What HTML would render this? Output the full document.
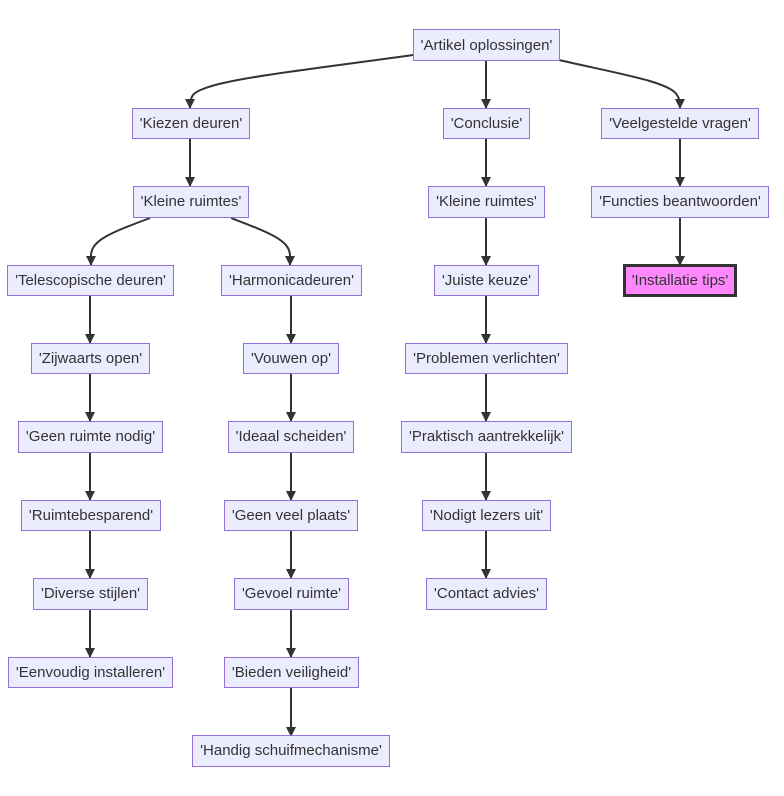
<!DOCTYPE html>
<html><head><meta charset="utf-8"><style>
html,body{margin:0;padding:0;background:#fff;}
body{width:784px;height:796px;position:relative;overflow:hidden;font-family:"Liberation Sans",sans-serif;}
.n{position:absolute;height:30px;box-sizing:border-box;border:1px solid #9370DB;background:#ECECFF;color:#333;font-size:15px;line-height:29px;text-align:center;white-space:nowrap;}
.hl{background:#ff88ff;border:3px solid #333;line-height:25px;}
svg{position:absolute;left:0;top:0;}
</style></head><body>
<svg width="784" height="796">
<defs><marker id="a" markerWidth="10" markerHeight="10" refX="9" refY="5" orient="auto" markerUnits="userSpaceOnUse"><path d="M0,0 L10,5 L0,10 z" fill="#333"/></marker></defs>
<g stroke="#333" stroke-width="2" fill="none" marker-end="url(#a)">
<path d="M413,55 C300,71 205,80 193,95 Q190,99 190,108"/>
<path d="M559,60 C620,74 670,82 677,95 Q680,99 680,108"/>
<path d="M486,61 V108"/>
<path d="M190,139 V186"/>
<path d="M486,139 V186"/>
<path d="M680,139 V186"/>
<path d="M150,218 C110,233 92,240 91,255 V265"/>
<path d="M231,218 C270,233 289,240 290,255 V265"/>
<path d="M486,218 V265"/>
<path d="M680,218 V265"/>
<path d="M90,296 V343"/><path d="M291,296 V343"/><path d="M486,296 V343"/>
<path d="M90,374 V421"/><path d="M291,374 V421"/><path d="M486,374 V421"/>
<path d="M90,453 V500"/><path d="M291,453 V500"/><path d="M486,453 V500"/>
<path d="M90,531 V578"/><path d="M291,531 V578"/><path d="M486,531 V578"/>
<path d="M90,610 V657"/><path d="M291,610 V657"/>
<path d="M291,688 V736"/>
</g></svg>
<div class="n" style="left:413px;top:29px;width:147px;height:32px;line-height:31px">'Artikel oplossingen'</div>
<div class="n" style="left:132px;top:108px;width:118px;height:31px">'Kiezen deuren'</div>
<div class="n" style="left:443px;top:108px;width:87px;height:31px">'Conclusie'</div>
<div class="n" style="left:601px;top:108px;width:158px;height:31px">'Veelgestelde vragen'</div>
<div class="n" style="left:133px;top:186px;width:116px;height:32px">'Kleine ruimtes'</div>
<div class="n" style="left:428px;top:186px;width:117px;height:32px">'Kleine ruimtes'</div>
<div class="n" style="left:591px;top:186px;width:178px;height:32px">'Functies beantwoorden'</div>
<div class="n" style="left:7px;top:265px;width:167px;height:31px">'Telescopische deuren'</div>
<div class="n" style="left:221px;top:265px;width:141px;height:31px">'Harmonicadeuren'</div>
<div class="n" style="left:434px;top:265px;width:105px;height:31px">'Juiste keuze'</div>
<div class="n hl" style="left:623px;top:264px;width:114px;height:33px;line-height:27px">'Installatie tips'</div>
<div class="n" style="left:31px;top:343px;width:119px;height:31px">'Zijwaarts open'</div>
<div class="n" style="left:243px;top:343px;width:96px;height:31px">'Vouwen op'</div>
<div class="n" style="left:405px;top:343px;width:163px;height:31px">'Problemen verlichten'</div>
<div class="n" style="left:18px;top:421px;width:145px;height:32px">'Geen ruimte nodig'</div>
<div class="n" style="left:228px;top:421px;width:126px;height:32px">'Ideaal scheiden'</div>
<div class="n" style="left:401px;top:421px;width:171px;height:32px">'Praktisch aantrekkelijk'</div>
<div class="n" style="left:21px;top:500px;width:140px;height:31px">'Ruimtebesparend'</div>
<div class="n" style="left:224px;top:500px;width:134px;height:31px">'Geen veel plaats'</div>
<div class="n" style="left:422px;top:500px;width:129px;height:31px">'Nodigt lezers uit'</div>
<div class="n" style="left:33px;top:578px;width:115px;height:32px">'Diverse stijlen'</div>
<div class="n" style="left:234px;top:578px;width:115px;height:32px">'Gevoel ruimte'</div>
<div class="n" style="left:426px;top:578px;width:121px;height:32px">'Contact advies'</div>
<div class="n" style="left:8px;top:657px;width:165px;height:31px">'Eenvoudig installeren'</div>
<div class="n" style="left:224px;top:657px;width:135px;height:31px">'Bieden veiligheid'</div>
<div class="n" style="left:192px;top:735px;width:198px;height:32px">'Handig schuifmechanisme'</div>
</body></html>
